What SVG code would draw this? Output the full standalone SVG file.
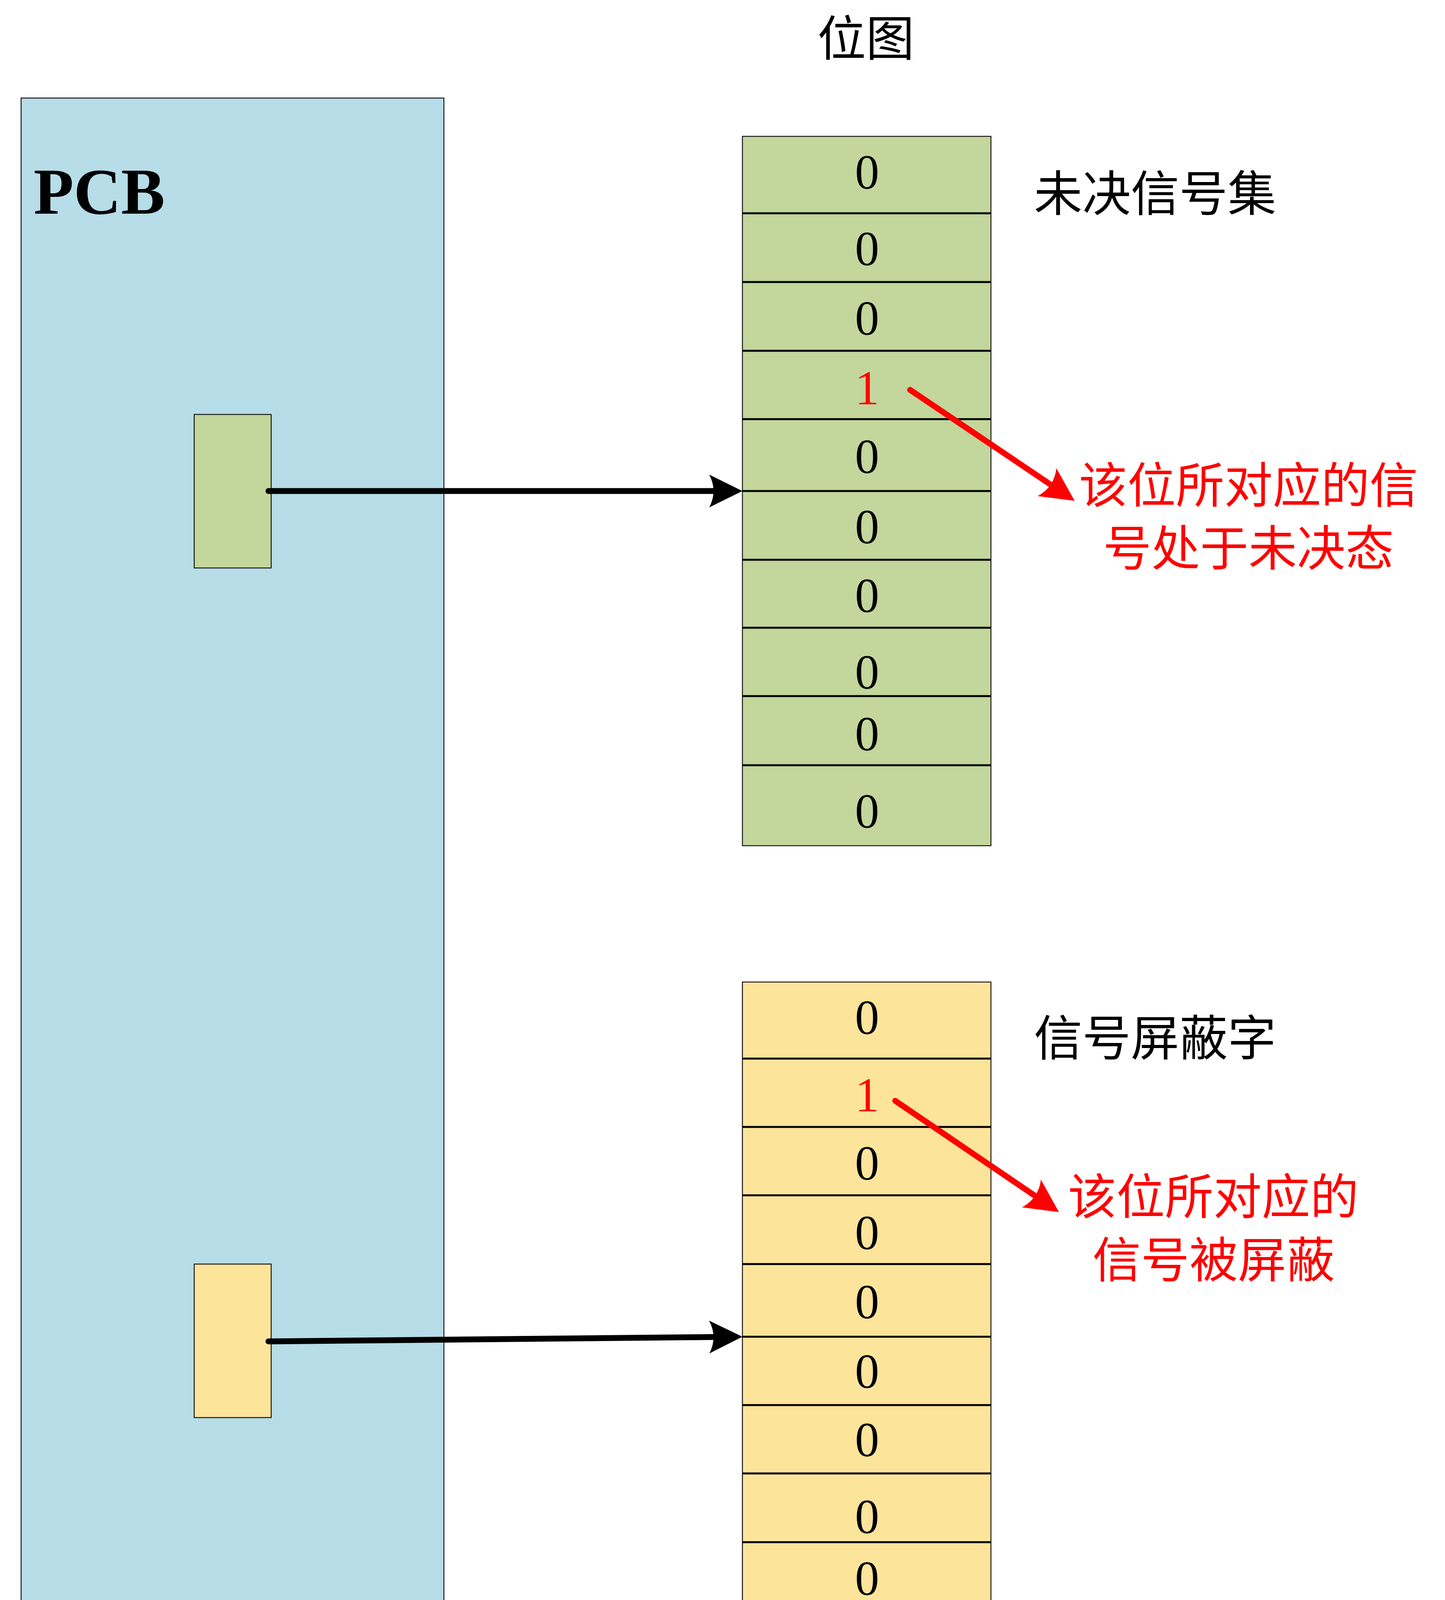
<svg xmlns="http://www.w3.org/2000/svg" width="3698" height="4365" viewBox="0 0 3698 4365">
<style>
.cjk{font-family:"Noto Sans CJK SC","Noto Sans CJK JP",sans-serif;font-size:124px;}
.dig{font-family:"Liberation Serif","Times New Roman",serif;font-size:124px;text-anchor:middle;fill:#000;}
.red{fill:#FF0000;}
.row{stroke:#000;stroke-width:5;}
.box{stroke:#1a1a1a;stroke-width:2.5;}
.conn{fill:none;stroke-width:15;stroke-linecap:round;}
</style>
<defs>
<marker id="ahBlack" markerUnits="userSpaceOnUse" markerWidth="90" markerHeight="90" viewBox="0 -45 90 90" refX="11" refY="0" orient="auto" overflow="visible">
<path d="M85,0 L0,-42 Q22,0 0,42 Z" fill="#000"/>
</marker>
<marker id="ahRed" markerUnits="userSpaceOnUse" markerWidth="90" markerHeight="90" viewBox="0 -45 90 90" refX="11" refY="0" orient="auto" overflow="visible">
<path d="M85,0 L0,-43 Q22,0 0,43 Z" fill="#FF0000"/>
</marker>
</defs>
<rect width="3698" height="4365" fill="#FFFFFF"/>

<g id="title">
<text class="cjk" x="2216" y="143" text-anchor="middle" font-size="118">位图</text>
</g>

<g id="pcb">
<rect class="box" x="54" y="251" width="1082" height="4033" fill="#B7DDE8"/>
<text x="86" y="547" font-family="Liberation Serif, Times New Roman, serif" font-weight="bold" font-size="168" fill="#000">PCB</text>
</g>

<g id="pending-field">
<rect class="box" x="497" y="1061" width="197" height="393" fill="#C3D69B"/>
</g>

<g id="mask-field">
<rect class="box" x="497" y="3236" width="197" height="393" fill="#FDE49B"/>
</g>

<g id="pending-set">
<rect class="box" x="1900" y="349" width="636" height="1816" fill="#C3D69B"/>
<line class="row" x1="1900" y1="546" x2="2536" y2="546"/>
<line class="row" x1="1900" y1="722" x2="2536" y2="722"/>
<line class="row" x1="1900" y1="898" x2="2536" y2="898"/>
<line class="row" x1="1900" y1="1073" x2="2536" y2="1073"/>
<line class="row" x1="1900" y1="1257" x2="2536" y2="1257"/>
<line class="row" x1="1900" y1="1433" x2="2536" y2="1433"/>
<line class="row" x1="1900" y1="1607" x2="2536" y2="1607"/>
<line class="row" x1="1900" y1="1782" x2="2536" y2="1782"/>
<line class="row" x1="1900" y1="1959" x2="2536" y2="1959"/>
<text class="dig" x="2219" y="483">0</text>
<text class="dig" x="2219" y="679">0</text>
<text class="dig" x="2219" y="857">0</text>
<text class="dig red" x="2219" y="1035">1</text>
<text class="dig" x="2219" y="1211">0</text>
<text class="dig" x="2219" y="1391">0</text>
<text class="dig" x="2219" y="1567">0</text>
<text class="dig" x="2219" y="1763">0</text>
<text class="dig" x="2219" y="1921">0</text>
<text class="dig" x="2219" y="2119">0</text>
<text class="cjk" x="2646" y="540" fill="#000">未决信号集</text>
</g>

<g id="mask-set">
<rect class="box" x="1900" y="2514" width="636" height="1816" fill="#FDE49B"/>
<line class="row" x1="1900" y1="2710" x2="2536" y2="2710"/>
<line class="row" x1="1900" y1="2885" x2="2536" y2="2885"/>
<line class="row" x1="1900" y1="3060" x2="2536" y2="3060"/>
<line class="row" x1="1900" y1="3236" x2="2536" y2="3236"/>
<line class="row" x1="1900" y1="3422" x2="2536" y2="3422"/>
<line class="row" x1="1900" y1="3597" x2="2536" y2="3597"/>
<line class="row" x1="1900" y1="3772" x2="2536" y2="3772"/>
<line class="row" x1="1900" y1="3948" x2="2536" y2="3948"/>
<line class="row" x1="1900" y1="4123" x2="2536" y2="4123"/>
<text class="dig" x="2219" y="2647">0</text>
<text class="dig red" x="2219" y="2845">1</text>
<text class="dig" x="2219" y="3020">0</text>
<text class="dig" x="2219" y="3198">0</text>
<text class="dig" x="2219" y="3375">0</text>
<text class="dig" x="2219" y="3553">0</text>
<text class="dig" x="2219" y="3728">0</text>
<text class="dig" x="2219" y="3925">0</text>
<text class="dig" x="2219" y="4083">0</text>
<text class="dig" x="2219" y="4280">0</text>
<text class="cjk" x="2646" y="2702" fill="#000">信号屏蔽字</text>
</g>

<g id="note-pending">
<text class="cjk red" x="3195" y="1287" text-anchor="middle" font-size="123">该位所对应的信</text>
<text class="cjk red" x="3195" y="1448" text-anchor="middle" font-size="123">号处于未决态</text>
</g>

<g id="note-mask">
<text class="cjk red" x="3105" y="3108" text-anchor="middle" font-size="123">该位所对应的</text>
<text class="cjk red" x="3106" y="3270" text-anchor="middle" font-size="123">信号被屏蔽</text>
</g>

<g id="connectors">
<path class="conn" stroke="#000" d="M687,1257 L1826,1257" marker-end="url(#ahBlack)"/>
<path class="conn" stroke="#000" d="M687,3434 L1826,3422.7" marker-end="url(#ahBlack)"/>
<path class="conn" stroke="#FF0000" d="M2329,998 L2688.7,1240.6" marker-end="url(#ahRed)"/>
<path class="conn" stroke="#FF0000" d="M2291,2818 L2648.8,3061.4" marker-end="url(#ahRed)"/>
</g>
</svg>
